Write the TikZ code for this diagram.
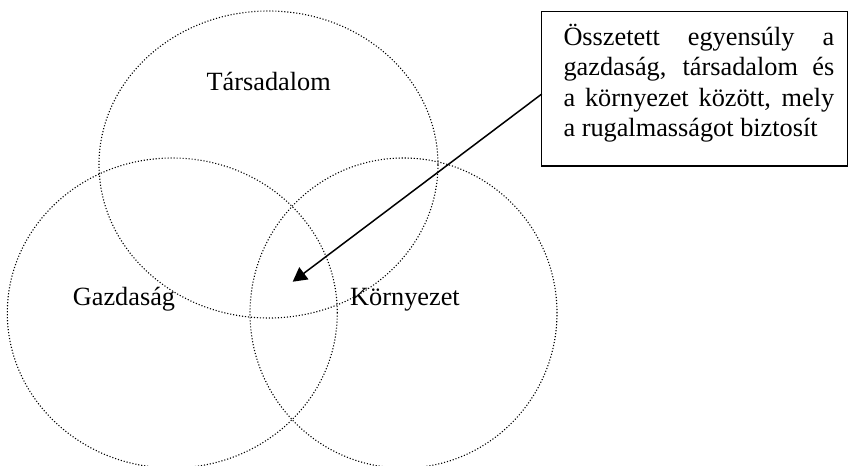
\documentclass[tikz,border=0pt]{standalone}
\usepackage{fontspec}
\setmainfont{Liberation Serif}
\usetikzlibrary{shapes.geometric,arrows.meta}
\begin{document}
\begin{tikzpicture}[x=1pt,y=-1pt,
  ring/.style={ellipse, draw, line width=1.1pt, dash pattern=on 1.1pt off 1.9pt, inner sep=0pt, outer sep=0pt},
  lbl/.style={anchor=base, inner sep=0pt, font=\fontsize{26.3}{30.6}\selectfont},
  notebox/.style={draw, line width=1.3pt, inner sep=0pt, outer sep=0pt},
  pointer/.style={line width=1.5pt, -{Triangle[length=14pt,width=15pt]}}]
\fill[white] (0,0) rectangle (849,466);
\useasboundingbox (0,0) rectangle (849,466);
% circles
\node[ring, minimum width=339pt, minimum height=307pt] (tars) at (268.5,164.5) {};
\node[ring, minimum width=330pt, minimum height=310pt] (gazd) at (172.3,313) {};
\node[ring, minimum width=307pt, minimum height=310pt] (korny) at (403.5,313) {};
% labels
\node[lbl] (ltars) at (268.7,90) {Társadalom};
\node[lbl] (lgazd) at (124,305) {Gazdaság};
\node[lbl] (lkorny) at (405,305) {Környezet};
% note box
\node[notebox, minimum width=305.6pt, minimum height=154.3pt] (box) at (694.5,88.85) {};
\node[anchor=base west, inner sep=0pt] (boxtext) at (563.3,45) {\parbox[t]{270.7pt}{\fontsize{26.3}{30.6}\selectfont
\makebox[\linewidth][s]{Összetett egyensúly a}\\
\makebox[\linewidth][s]{gazdaság, társadalom és}\\
\makebox[\linewidth][s]{a környezet között, mely}\\
a rugalmasságot biztosít}};
% arrow
\coordinate (core) at (292.7,281.7);
\draw[pointer] ([yshift=-5.2pt]box.west) -- (core);
\end{tikzpicture}
\end{document}
